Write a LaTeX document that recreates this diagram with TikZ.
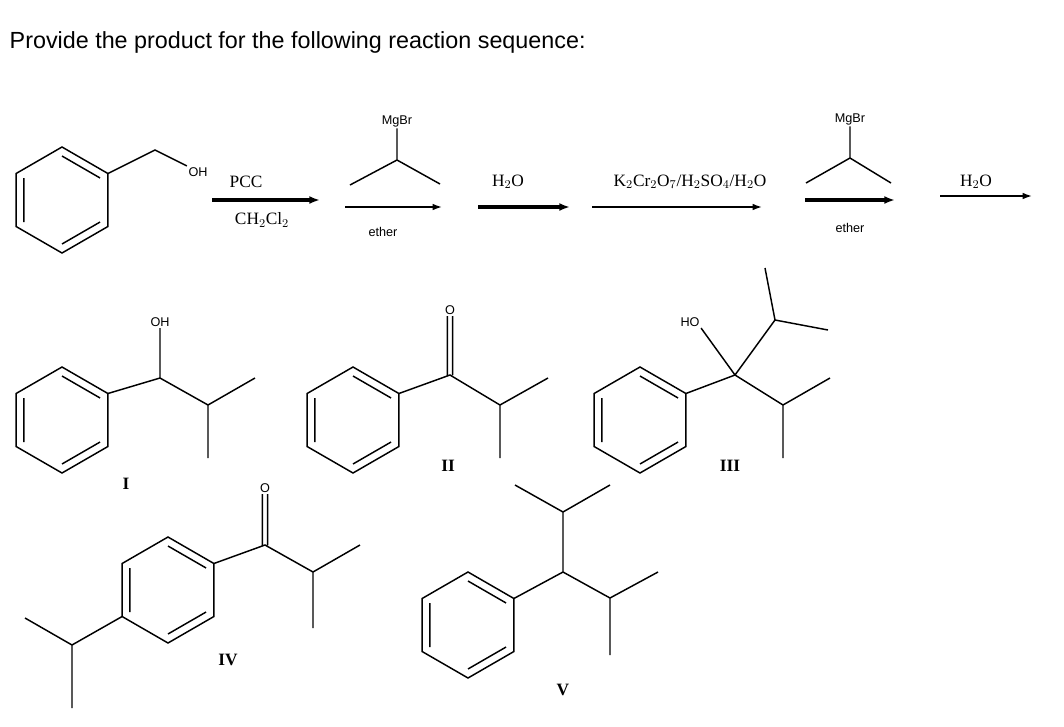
\documentclass[tikz,border=0pt]{standalone}
\usepackage{fontspec}
\setmainfont{Liberation Serif}
\setsansfont{Liberation Sans}
\usetikzlibrary{calc, arrows.meta}

% benzene ring: name, centre
\newcommand{\benz}[2]{%
  \coordinate (#1) at (#2);
  \foreach \a/\n in {270/t,330/ur,30/lr,90/b,150/ll,210/ul}
    \coordinate (#1\n) at ($(#1)+(\a:53)$);
  \draw[bond] (#1t)--(#1ur)--(#1lr)--(#1b)--(#1ll)--(#1ul)--cycle;
  \draw[bond] ($(#1)!.83!(#1t)$)--($(#1)!.83!(#1ur)$)
              ($(#1)!.83!(#1ll)$)--($(#1)!.83!(#1ul)$)
              ($(#1)!.83!(#1lr)$)--($(#1)!.83!(#1b)$);
}

\begin{document}
\begin{tikzpicture}[x=0.75pt,y=-0.75pt,
    bond/.style = {line width=1.1pt},
    rxn/.style = {line width=1.2pt, -{Latex[length=7pt,width=5pt]}},
    thick rxn/.style = {line width=2.4pt, -{Latex[length=8pt,width=6pt]}},
    atom/.style = {font=\sffamily\fontsize{9.5}{10}\selectfont, inner sep=1pt},
    reag/.style = {font=\fontsize{13}{14}\selectfont, inner sep=1pt},
    lbl/.style = {font=\bfseries\fontsize{13}{13}\selectfont},
    ]
    \useasboundingbox (0,0) rectangle (1064,726);
    \node[anchor=west, font=\sffamily\fontsize{17.5}{18}\selectfont] (title) at (5,42)
        {Provide the product for the following reaction sequence:};

    % starting alcohol
    \benz{A}{62,200}
    \coordinate (ch2) at (155,150);
    \node[atom] (oh0) at (198,172) {OH};
    \draw[bond] (Aur) -- (ch2) -- (oh0.north west);

    % PCC
    \coordinate (p1) at (212,200); \coordinate (p2) at (320,200);
    \draw[thick rxn] (p1) -- (p2);
    \node[reag] (pcc) at (246,182) {PCC};
    \node[reag] (dcm) at (262,220) {CH$_2$Cl$_2$};

    % first Grignard
    \node[atom] (mg1) at (397,121) {MgBr};
    \coordinate (g1) at (397,160);
    \draw[bond] (mg1) -- (g1) (350,185) -- (g1) -- (440,184);
    \coordinate (q1) at (345,207); \coordinate (q2) at (442,207);
    \draw[rxn] (q1) -- (q2);
    \node[atom] (eth1) at (383,232) {ether};

    % water
    \coordinate (w1) at (478,207); \coordinate (w2) at (570,207);
    \draw[thick rxn] (w1) -- (w2);
    \node[reag] (h2o1) at (508,182) {H$_2$O};

    % dichromate
    \coordinate (k1) at (592,207); \coordinate (k2) at (762,207);
    \draw[rxn] (k1) -- (k2);
    \node[reag] (kcr) at (690,182) {K$_2$Cr$_2$O$_7$/H$_2$SO$_4$/H$_2$O};

    % second Grignard
    \node[atom] (mg2) at (850,119) {MgBr};
    \coordinate (g2) at (850,158);
    \draw[bond] (mg2) -- (g2) (806,183) -- (g2) -- (891,183);
    \coordinate (r1) at (805,200); \coordinate (r2) at (895,200);
    \draw[thick rxn] (r1) -- (r2);
    \node[atom] (eth2) at (850,228) {ether};

    % water
    \coordinate (s1) at (940,196); \coordinate (s2) at (1032,196);
    \draw[rxn] (s1) -- (s2);
    \node[reag] (h2o2) at (976,182) {H$_2$O};

    % I
    \benz{I}{62,420}
    \node[atom] (ohI) at (160,322) {OH};
    \draw[bond] (ohI) -- (160,378) coordinate (cI) (Iur) -- (cI) -- (208,405) coordinate (iI)
        (iI) -- (255,378) (iI) -- (208,458);
    \node[lbl] (lI) at (126,484) {I};

    % II
    \benz{II}{353,420}
    \node[atom] (oII) at (450,310) {O};
    \coordinate (cII) at (450,375);
    \draw[bond] ([xshift=-2pt]oII.south) -- ([xshift=-2pt]cII) ([xshift=2pt]oII.south) -- ([xshift=2pt]cII)
        (IIur) -- (cII) -- (500,405) coordinate (iII) (iII) -- (548,378) (iII) -- (500,458);
    \node[lbl] (lII) at (448,466) {II};

    % III
    \benz{III}{640,420}
    \node[atom] (hoIII) at (690,322) {HO};
    \coordinate (cIII) at (735,375);
    \draw[bond] (hoIII.south east) -- (cIII) (IIIur) -- (cIII)
        (cIII) -- (775,320) coordinate (aIII) (aIII) -- (765,268) (aIII) -- (828,330)
        (cIII) -- (783,405) coordinate (bIII) (bIII) -- (830,378) (bIII) -- (783,458);
    \node[lbl] (lIII) at (730,466) {III};

    % IV
    \benz{IV}{168,590}
    \node[atom] (oIV) at (265,488) {O};
    \coordinate (cIV) at (265,545);
    \draw[bond] ([xshift=-2pt]oIV.south) -- ([xshift=-2pt]cIV) ([xshift=2pt]oIV.south) -- ([xshift=2pt]cIV)
        (IVur) -- (cIV) -- (313,572) coordinate (iIV) (iIV) -- (360,545) (iIV) -- (313,628)
        (IVll) -- (72,645) coordinate (jIV) (jIV) -- (25,618) (jIV) -- (72,708);
    \node[lbl] (lIV) at (228,660) {IV};

    % V
    \benz{V}{468,625}
    \coordinate (cV) at (563,572);
    \draw[bond] (Vur) -- (cV) -- (563,512) coordinate (aV) (aV) -- (515,485) (aV) -- (610,485)
        (cV) -- (610,598) coordinate (bV) (bV) -- (658,572) (bV) -- (610,655);
    \node[lbl] (lV) at (563,690) {V};
\end{tikzpicture}
\end{document}
